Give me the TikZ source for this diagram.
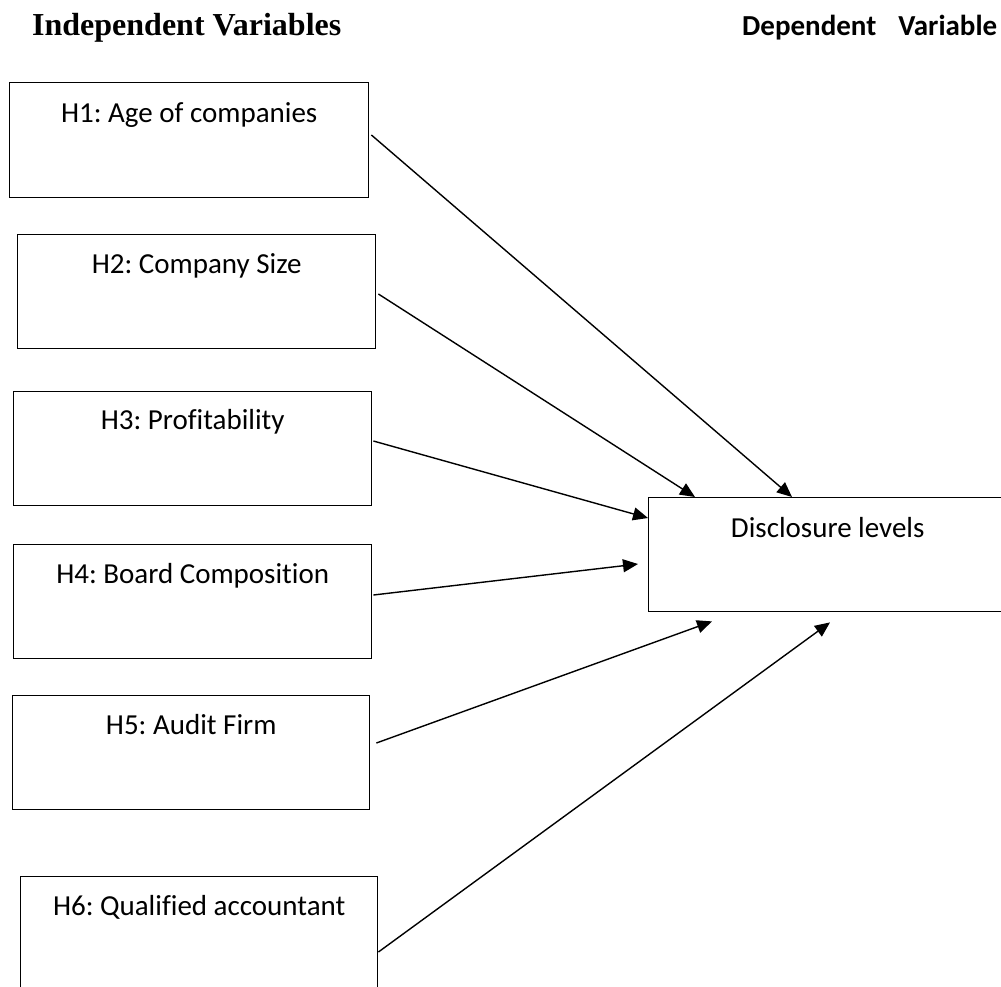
\documentclass[tikz,border=0pt]{standalone}
\usepackage{fontspec}
\setmainfont{Carlito}[Ligatures=NoCommon]
\newfontfamily\titlefont{Liberation Serif}
\usetikzlibrary{arrows.meta,calc}
\frenchspacing
\begin{document}
\begin{tikzpicture}[x=1pt,y=-1pt,
  hbox/.style={draw=black,line width=1.4pt,rectangle,inner sep=0pt,anchor=north west},
  lbl/.style={anchor=base,inner sep=0pt,font=\fontsize{29}{34}\selectfont},
  conn/.style={line width=1.4pt,-{Triangle[length=15pt,width=13pt]}}]
\useasboundingbox (0,0) rectangle (1001,986);
\clip (0,0) rectangle (1001,986);
\fill[white] (0,0) rectangle (1001,986);
% titles
\node[anchor=base west,inner sep=0pt,font=\titlefont\bfseries\fontsize{32}{37}\selectfont] (tl) at (32,35) {Independent Variables};
\node[anchor=base west,inner sep=0pt,font=\bfseries\fontsize{29}{34}\selectfont] (tr) at (742,35) {Dependent\hspace{22pt}Variable};
% boxes
\node[hbox,minimum width=359pt,minimum height=115pt] (h1) at (9,82) {};
\node[hbox,minimum width=358pt,minimum height=114pt] (h2) at (17,234) {};
\node[hbox,minimum width=358pt,minimum height=114pt] (h3) at (13,391) {};
\node[hbox,minimum width=358pt,minimum height=114pt] (h4) at (13,544) {};
\node[hbox,minimum width=357pt,minimum height=114pt] (h5) at (12,695) {};
\node[hbox,minimum width=357pt,minimum height=114pt] (h6) at (20,876) {};
\node[hbox,minimum width=358pt,minimum height=114pt] (dl) at (648,497) {};
% labels
\node[lbl] (t1) at ($(h1.north)+(0,40)$) {H1: Age of companies};
\node[lbl] (t2) at ($(h2.north)+(0,39)$) {H2: Company Size};
\node[lbl] (t3) at ($(h3.north)+(0,38)$) {H3: Profitability};
\node[lbl] (t4) at ($(h4.north)+(0,39)$) {H4: Board Composition};
\node[lbl] (t5) at ($(h5.north)+(0,39)$) {H5: Audit Firm};
\node[lbl] (t6) at ($(h6.north)+(0,39)$) {H6: Qualified accountant};
\node[lbl] (t7) at ($(dl.north)+(0,40)$) {Disclosure levels};
% connectors
\draw[conn] ($(h1.north east)+(2,53)$) -- ($(dl.north west)+(144,0)$);
\draw[conn] ($(h2.north east)+(2,60)$) -- ($(dl.north west)+(47,0)$);
\draw[conn] ($(h3.north east)+(1,50)$) -- ($(dl.north west)+(0,21)$);
\draw[conn] ($(h4.north east)+(1,51)$) -- ($(dl.north west)+(-10,67)$);
\draw[conn] ($(h5.north east)+(6,48)$) -- ($(dl.south west)+(64,9)$);
\draw[conn] ($(h6.north east)+(0,76)$) -- ($(dl.south west)+(182,10)$);
\end{tikzpicture}
\end{document}
